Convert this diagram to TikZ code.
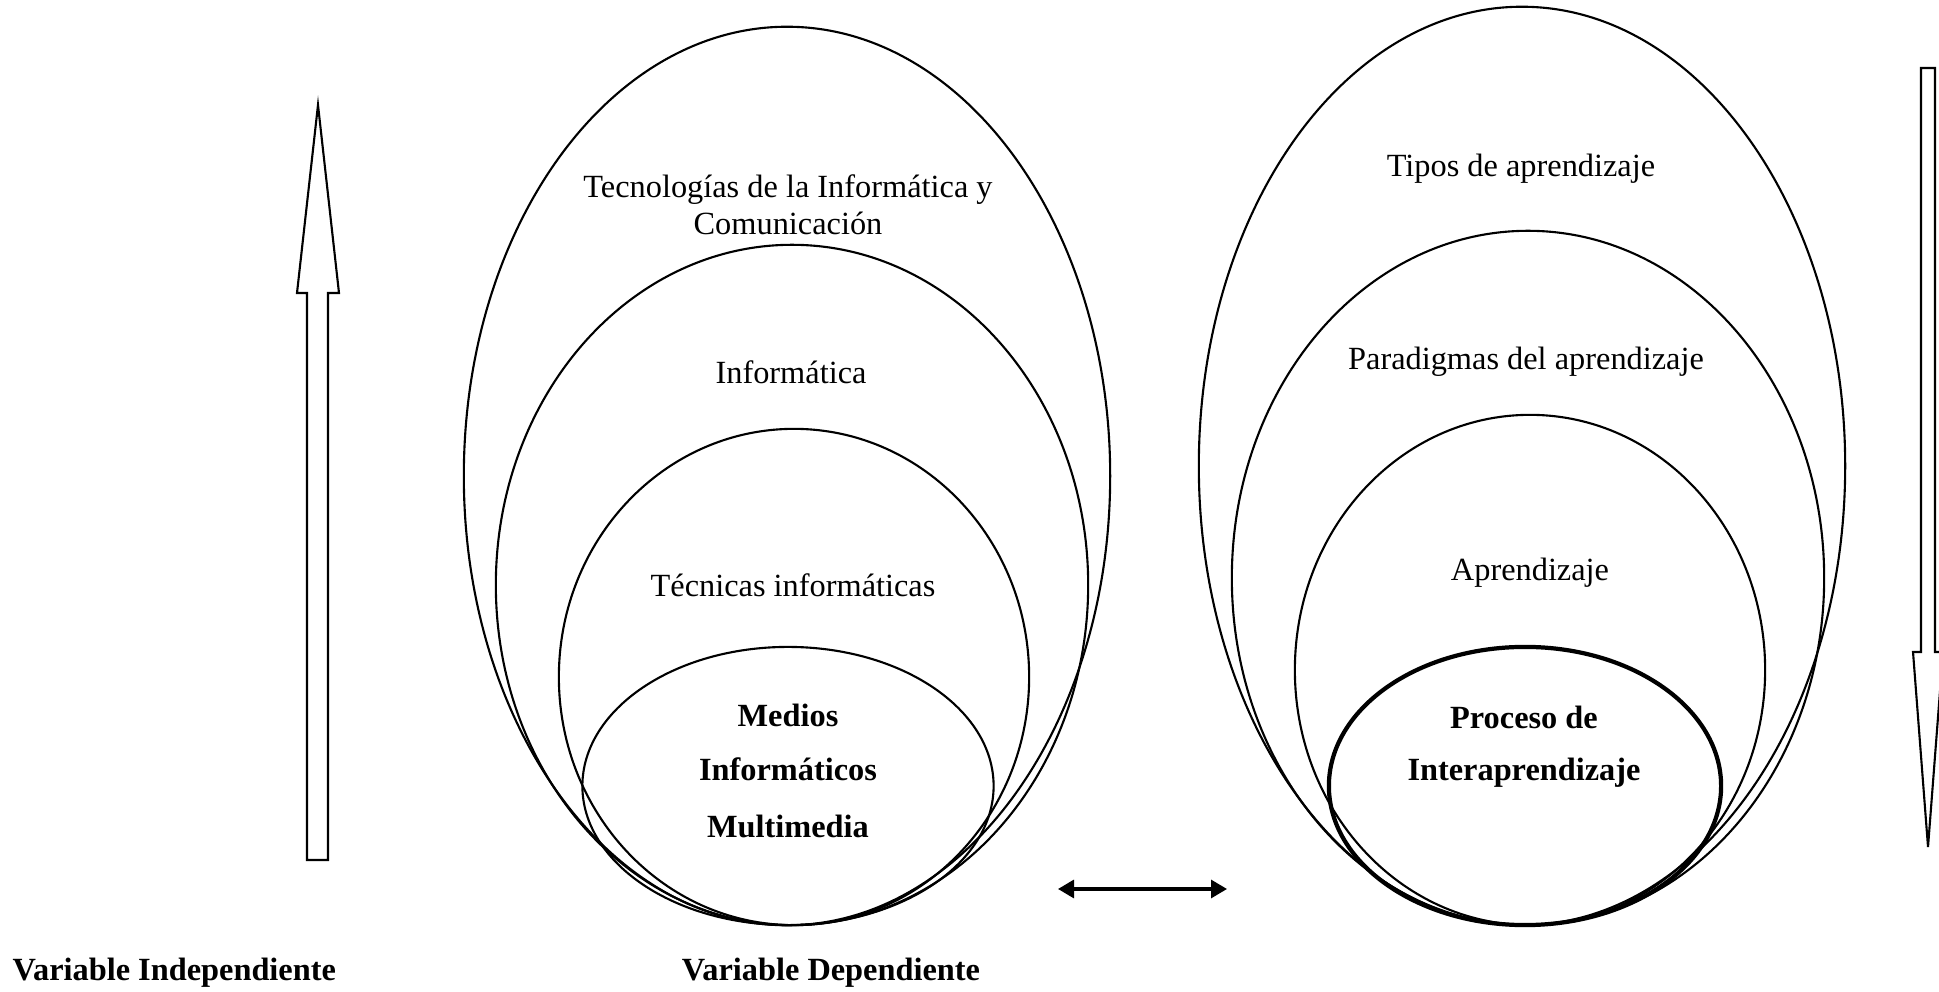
\documentclass[tikz,border=0pt]{standalone}
\usepackage{fontspec}
\setmainfont{Liberation Serif}
\usetikzlibrary{shapes.geometric,arrows.meta}

\begin{document}
\begin{tikzpicture}[x=0.01cm,y=-0.01cm,
    oval/.style={draw,ellipse,inner sep=0pt,line width=0.6pt},
    lbl/.style={font=\fontsize{9.2}{10.6}\selectfont,inner sep=0pt,align=center},
    blbl/.style={lbl,font=\fontsize{9.2}{10.6}\selectfont\bfseries}]
  \useasboundingbox (0,0) rectangle (1939,992);
  % left group
  \node[oval,minimum width=6.46cm,minimum height=8.98cm] (tic) at (787,476) {};
  \node[oval,minimum width=5.92cm,minimum height=6.80cm] (inf) at (792,585) {};
  \node[oval,minimum width=4.70cm,minimum height=4.96cm] (tec) at (794,677) {};
  \node[oval,minimum width=4.11cm,minimum height=2.78cm] (med) at (788,786) {};
  \node[lbl] (tict) at (788,205) {Tecnologías de la Informática y\\Comunicación};
  \node[lbl] (inft) at (791,372) {Informática};
  \node[lbl] (tect) at (793,585) {Técnicas informáticas};
  \node[blbl] (med1) at (788,715) {Medios};
  \node[blbl] (med2) at (788,769) {Informáticos};
  \node[blbl] (med3) at (788,826) {Multimedia};
  % right group
  \node[oval,minimum width=6.46cm,minimum height=9.18cm] (tip) at (1522,466) {};
  \node[oval,minimum width=5.92cm,minimum height=6.94cm] (par) at (1528,578) {};
  \node[oval,minimum width=4.70cm,minimum height=5.10cm] (apr) at (1530,670) {};
  \node[oval,line width=1.2pt,minimum width=3.92cm,minimum height=2.78cm] (pro) at (1525,786) {};
  \node[lbl] (tipt) at (1521,169) {Tipos de aprendizaje};
  \node[lbl] (part) at (1526,362) {Paradigmas del aprendizaje};
  \node[lbl] (aprt) at (1530,573) {Aprendizaje};
  \node[blbl] (pro1) at (1524,717) {Proceso de};
  \node[blbl] (pro2) at (1524,773) {Interaprendizaje};
  % block arrows
  \draw[line width=0.6pt,fill=white] (307,860) -- (307,293) -- (297,293) -- (318,105)
    -- (339,293) -- (328,293) -- (328,860) -- cycle;
  \draw[line width=0.6pt,fill=white] (1921,68) -- (1921,652) -- (1913,652) -- (1928,847)
    -- (1943,652) -- (1935,652) -- (1935,68) -- cycle;
  % link
  \coordinate (la) at (1058,889);
  \coordinate (lb) at (1227,889);
  \draw[{Triangle[length=1.6mm,width=1.8mm]}-{Triangle[length=1.6mm,width=1.8mm]},line width=0.9pt] (la) -- (lb);
  % captions
  \node[blbl,anchor=west] (vi) at (12,973) {Variable Independiente};
  \node[blbl] (vd) at (831,973) {Variable Dependiente};
\end{tikzpicture}
\end{document}
